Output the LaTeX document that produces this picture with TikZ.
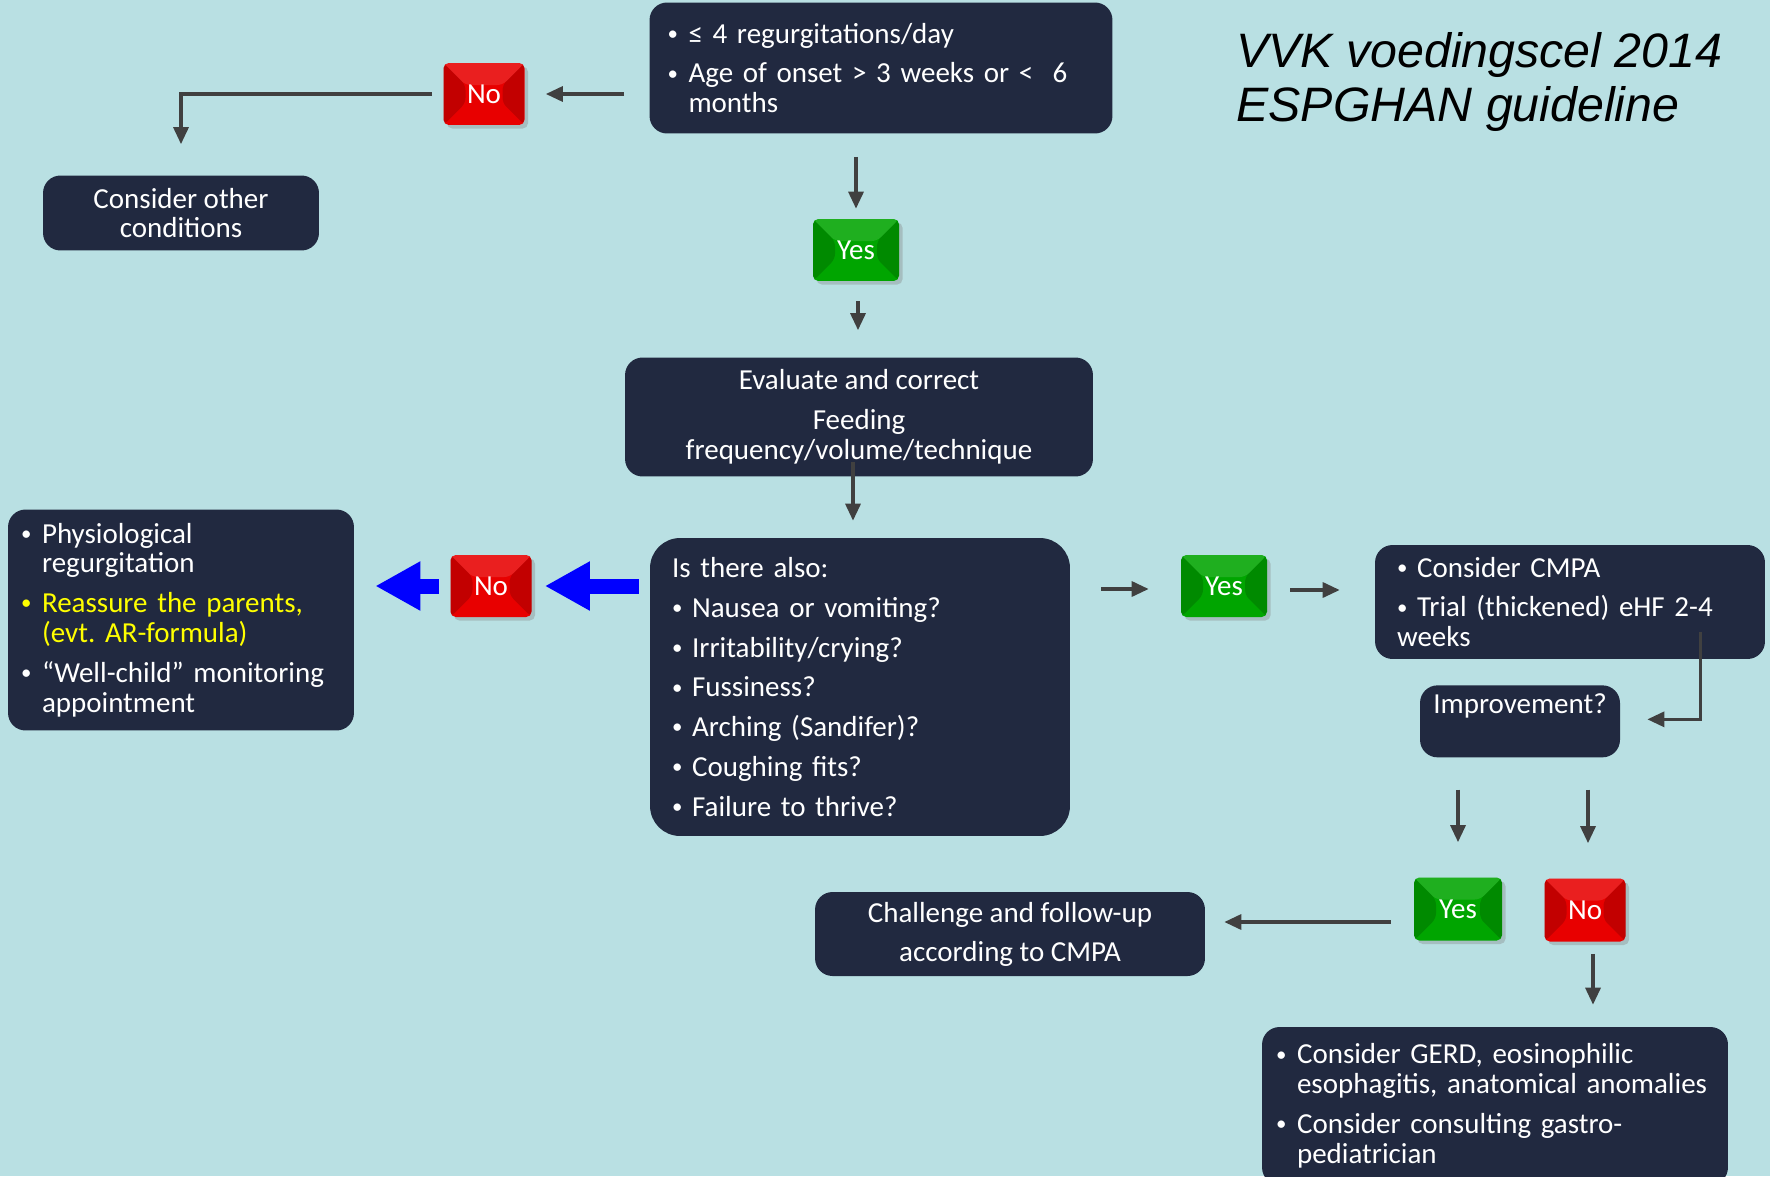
\documentclass[tikz,border=0pt]{standalone}
\usepackage{fontspec}
\usepackage{graphicx}
\setmainfont{Carlito}
\newfontfamily\titlefont{Liberation Sans}
\definecolor{bgteal}{RGB}{185,224,227}
\definecolor{boxnavy}{RGB}{33,41,64}
\definecolor{arrgray}{RGB}{64,64,64}
\definecolor{nored}{RGB}{232,0,0}
\definecolor{yesgreen}{RGB}{0,165,0}
\definecolor{pureblue}{RGB}{0,0,255}
\definecolor{hiyellow}{RGB}{255,255,0}
\usetikzlibrary{arrows.meta,positioning,calc,shadows}
\newcommand{\smbul}{\raisebox{0.1em}{\scalebox{0.72}{•}}}
\newcommand{\bul}{\makebox[0.42cm][l]{\smbul}}
\newcommand{\hang}{\hspace*{0.42cm}}
\frenchspacing

\begin{document}
\begin{tikzpicture}[x=0.02cm,y=-0.02cm,
  font=\fontsize{16.5}{17}\selectfont,
  darkbox/.style={fill=boxnavy,text=white,rounded corners=0.35cm,inner sep=0pt},
  bevel/.style={path picture={
    \path (path picture bounding box.north west) coordinate (b1)
          (path picture bounding box.north east) coordinate (b2)
          (path picture bounding box.south east) coordinate (b3)
          (path picture bounding box.south west) coordinate (b4);
    \fill[black,opacity=.16] (b1) -- ([shift={(22,22)}]b1) -- ([shift={(22,-22)}]b4) -- (b4) -- cycle;
    \fill[black,opacity=.16] (b2) -- ([shift={(-22,22)}]b2) -- ([shift={(-22,-22)}]b3) -- (b3) -- cycle;
    \fill[white,opacity=.12] (b1) -- ([shift={(22,22)}]b1) -- ([shift={(-22,22)}]b2) -- (b2) -- cycle;}},
  nobox/.style={fill=nored,text=white,rounded corners=3pt,inner sep=0pt,
    minimum width=1.62cm,minimum height=1.24cm,bevel,
    drop shadow={opacity=.35,shadow xshift=2pt,shadow yshift=-2pt}},
  yesbox/.style={nobox,fill=yesgreen,minimum width=1.72cm},
  arr/.style={arrgray,line width=0.065cm,-{Triangle[length=0.34cm,width=0.3cm]}},
  bluearr/.style={pureblue,line width=0.3cm,-{Triangle[length=0.9cm,width=0.92cm]}}]
  \useasboundingbox (0,0) rectangle (1770,1176);
  \clip (0,0) rectangle (1770,1176);
  \fill[bgteal] (0,0) rectangle (1770,1176);
  %% Title
  \node[anchor=north west,inner sep=0pt,align=left,
        font=\titlefont\itshape\fontsize{27.5}{31}\selectfont] (title) at (1236,32)
        {VVK voedingscel 2014\\ESPGHAN guideline};
  %% First question
  \node[darkbox,minimum width=9.26cm,minimum height=2.62cm,text width=8.54cm,align=left]
        (crit) at (881,68)
        {\bul ≤ 4 regurgitations/day\\[5.7pt]\bul Age of onset > 3 weeks or <\ \ 6\\\hang months};
  \node[nobox] (no1) at (484,94) {No};
  \node[darkbox,minimum width=5.52cm,minimum height=1.5cm,align=center]
        (other) at (181,213) {Consider other\\conditions};
  \node[yesbox] (yes1) at (856,250) {Yes};
  \node[darkbox,minimum width=9.36cm,minimum height=2.38cm,align=center]
        (evalbox) at (859,417)
        {Evaluate and correct\\[5.7pt]Feeding\\frequency/volume/technique};
  %% Second question
  \node[darkbox,rounded corners=0.6cm,minimum width=8.4cm,minimum height=5.96cm,
        text width=7.52cm,align=left] (isthere) at (860,687)
        {Is there also:\\[5.7pt]\smbul\ Nausea or vomiting?\\[5.7pt]\smbul\ Irritability/crying?\\[5.7pt]%
         \smbul\ Fussiness?\\[5.7pt]\smbul\ Arching (Sandifer)?\\[5.7pt]\smbul\ Coughing fits?\\[5.7pt]%
         \smbul\ Failure to thrive?};
  \node[nobox] (no2) at (491,586) {No};
  \node[darkbox,minimum width=6.92cm,minimum height=4.42cm,text width=6.4cm,align=left]
        (phys) at (181,620)
        {\bul Physiological\\\hang regurgitation\\[5.7pt]%
         {\color{hiyellow}\bul Reassure the parents,}\\{\color{hiyellow}\hang (evt. AR-formula)}\\[5.7pt]%
         \bul “Well-child” monitoring\\\hang appointment};
  \node[yesbox] (yes2) at (1224,586) {Yes};
  \node[darkbox,minimum width=7.8cm,minimum height=2.28cm,text width=6.92cm,align=left]
        (cmpa) at (1570,602)
        {\smbul\ Consider CMPA\\[5.7pt]\smbul\ Trial (thickened) eHF 2-4\\weeks};
  %% Third question
  \node[darkbox,anchor=north,minimum width=4cm,text height=0.45cm,text depth=0.75cm,
        inner ysep=0.12cm] (improve) at (1520,685) {Improvement?};
  \node[yesbox,minimum width=1.76cm,minimum height=1.26cm] (yes3) at (1458,909) {Yes};
  \node[nobox,minimum height=1.26cm] (no3) at (1585,910) {No};
  \node[darkbox,minimum width=7.8cm,minimum height=1.68cm,align=center]
        (challenge) at (1010,934) {Challenge and follow-up\\[5.1pt]according to CMPA};
  \node[darkbox,minimum width=9.32cm,minimum height=3.16cm,text width=8.76cm,align=left]
        (gerd) at (1495,1106)
        {\bul Consider GERD, eosinophilic\\\hang esophagitis, anatomical anomalies\\[5.7pt]%
         \bul Consider consulting gastro-\\\hang pediatrician};
  %% Connectors
  \draw[arr] ($(crit.west |- no1)+(-25,0)$) -- ($(no1.east)+(21,0)$);
  \draw[arr] ($(no1.west)+(-11,0)$) -| ($(other.north)+(0,-31)$);
  \draw[arr] ($(crit.south -| yes1)+(0,23)$) -- ($(yes1.north)+(0,-10)$);
  \draw[arr] ($(yes1.south)+(2,20)$) -- ($(yes1.south |- evalbox.north)+(2,-27)$);
  \draw[arr] ($(evalbox.south)+(-6,-15)$) -- ($(evalbox.south |- isthere.north)+(-6,-17)$);
  \draw[bluearr] ($(isthere.west |- no2)+(-11,0)$) -- ($(no2.east)+(13,0)$);
  \draw[bluearr] ($(no2.west)+(-11,0)$) -- ($(phys.east |- no2)+(21,0)$);
  \draw[arr] ($(isthere.east |- yes2)+(31,3)$) -- ($(yes2.west)+(-32,3)$);
  \draw[arr] ($(yes2.east)+(23,4)$) -- ($(cmpa.west |- yes2)+(-35,4)$);
  \draw[arr] ($(cmpa.south east)+(-65,-27)$) |- ($(improve.east)+(27,-2)$);
  \draw[arr] ($(improve.south -| yes3)+(0,32)$) -- ($(yes3.north)+(0,-35)$);
  \draw[arr] ($(improve.south -| no3)+(3,32)$) -- ($(no3.north)+(3,-35)$);
  \draw[arr] ($(yes3.west)+(-23,13)$) -- ($(yes3.west -| challenge.east)+(19,13)$);
  \draw[arr] ($(no3.south)+(8,12)$) -- ($(no3.south |- gerd.north)+(8,-22)$);
\end{tikzpicture}
\end{document}
